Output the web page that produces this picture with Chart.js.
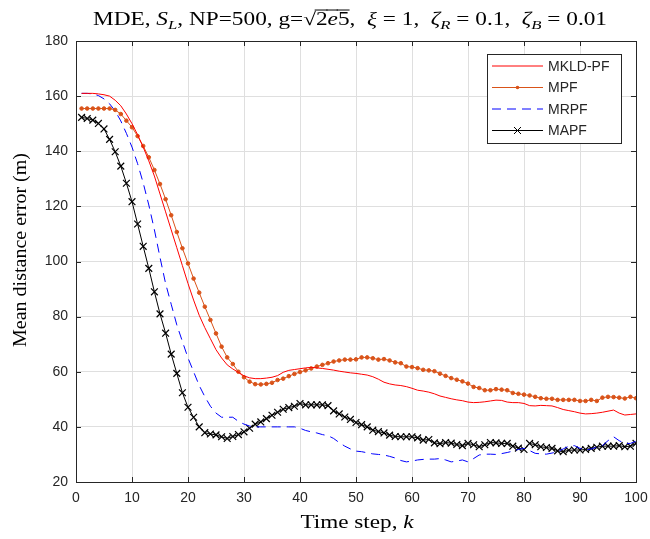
<!DOCTYPE html>
<html>
<head>
<meta charset="utf-8">
<script src="https://cdn.jsdelivr.net/npm/chart.js@4"></script>
<style>
  html, body { margin: 0; padding: 0; background: #fff; }
  #wrap { width: 650px; height: 539px; }
</style>
</head>
<body>
<div id="wrap"><canvas id="chart" width="650" height="539"></canvas></div>
<script>
const steps = Array.from({ length: 100 }, (_, i) => i + 1);

const mkldpf = [161, 161, 161, 160.8, 160.5, 160, 158.5, 156.5, 153.5, 150,
    146, 141.5, 136.5, 131, 124.5, 118, 111.5, 105, 98.5, 92,
    86, 80.5, 76, 72, 68, 65, 62.5, 61, 59.8, 58.5,
    57.8, 57.5, 57.5, 57.7, 58, 58.6, 59.8, 60.5, 60.8, 61.1,
    61.4, 61.6, 61.4, 61.2, 60.9, 60.6, 60.2, 59.9, 59.6, 59.4,
    59.1, 58.8, 58.2, 57.3, 56.2, 55.6, 55.2, 55, 54.6, 54,
    53.3, 53, 52.6, 52, 51.2, 50.7, 50.2, 49.8, 49.5, 49,
    48.8, 48.9, 49.1, 49.4, 49.7, 49.6, 49, 48.8, 48.8, 48.5,
    47.7, 47.6, 47.8, 47.7, 47.6, 47, 46.3, 45.9, 45.5, 45,
    44.7, 44.8, 45, 45.3, 45.7, 46.1, 45, 44.3, 44.5, 44.7];

const mpf = [155.5, 155.5, 155.5, 155.5, 155.5, 155.5, 155, 153.5, 151.1, 148.7,
    145.5, 141.9, 137.8, 133.2, 128.1, 122.6, 116.8, 110.7, 104.8, 99.3,
    93.8, 88.7, 83.6, 78.8, 73.9, 69.1, 65.2, 62.8, 60, 58,
    56.4, 55.5, 55.4, 55.6, 56, 57, 57.5, 58.4, 59.2, 59.9,
    60.5, 61.2, 61.9, 62.5, 63.1, 63.7, 64.1, 64.4, 64.4, 64.5,
    65.2, 65.2, 64.9, 64.4, 64.6, 64.1, 63.4, 63.1, 61.9, 61.7,
    61.3, 60.7, 60.5, 60.2, 59.3, 58.5, 57.7, 57.1, 56.5, 55.7,
    54.5, 54.1, 53.3, 53.3, 53.7, 53.5, 53.3, 52.3, 52, 51.7,
    51.4, 50.9, 50.4, 50.2, 50.2, 49.8, 49.8, 49.8, 49.8, 49.4,
    49.4, 49.8, 49.4, 50.6, 50.9, 50.8, 50.6, 50.3, 50.9, 50.4];

const mrpf = [161, 161, 160.8, 160.2, 159, 157.2, 154.6, 151, 146.5, 141.5,
    135.5, 128.5, 120.5, 111.5, 101.5, 92, 84.5, 77, 71, 65,
    60, 55, 51, 47.5, 45, 43.5, 43.5, 43.5, 42, 41,
    40.3, 40, 40, 40, 40, 40, 40, 40, 40, 39.5,
    38.7, 38.2, 37.8, 37.2, 36.8, 35.8, 34.3, 33, 32, 31.2,
    31, 30.6, 30.2, 30, 29.8, 29.3, 28.7, 27.8, 27.3, 27.6,
    28, 28.2, 28.3, 28.3, 28.5, 28, 27.3, 27.6, 28, 27.3,
    28.5, 29.8, 30.1, 30.1, 30, 30.3, 30.7, 31.2, 31.8, 32.2,
    31.4, 30.4, 30.2, 30.1, 30.5, 31, 32, 33, 33.2, 32.2,
    31.6, 32, 32.6, 33.2, 35, 36.4, 35, 34, 34, 34.8];

const mapf = [152.3, 151.9, 151.3, 150.1, 148.1, 144.3, 139.8, 134.6, 128.4, 121.7,
    113.6, 105.5, 97.5, 89, 81, 74, 66.4, 59.4, 52.4, 47.1,
    43.5, 40, 37.9, 37.4, 37.1, 36.4, 35.8, 36.5, 37.2, 38.2,
    39.5, 41, 41.8, 43, 44.2, 45.3, 46.4, 47, 47.5, 48.5,
    48, 48, 48, 48, 47.7, 45.8, 44.7, 43.6, 42.7, 41.6,
    40.8, 40, 38.8, 38.3, 37.8, 37, 36.5, 36.4, 36.4, 36.4,
    36, 35.2, 35.4, 34.2, 33.9, 34.3, 34.1, 33.6, 33.2, 34,
    33.5, 32.8, 33.5, 34.3, 34.2, 34, 34, 33, 32.3, 31.8,
    34, 33.5, 32.8, 32.5, 32.2, 31.3, 31, 31.5, 31.6, 31.6,
    31.8, 32.2, 32.6, 33, 33, 33, 33.2, 32.8, 33, 34];

const xTicks = [0, 10, 20, 30, 40, 50, 60, 70, 80, 90, 100];
const yTicks = [20, 40, 60, 80, 100, 120, 140, 160, 180];

const axisColor = '#262626';
const serif = '"Liberation Serif", "DejaVu Serif", serif';
const sans = '"Liberation Sans", Arial, sans-serif';

const toPoints = values => values.map((y, i) => ({ x: steps[i], y }));

const series = [
    { label: 'MKLD-PF', data: mkldpf, color: '#ff0000', dash: [], point: false, radius: 0 },
    { label: 'MPF', data: mpf, color: '#d95319', dash: [], point: 'circle', radius: 1.8 },
    { label: 'MRPF', data: mrpf, color: '#0000ff', dash: [9, 6], point: false, radius: 0 },
    { label: 'MAPF', data: mapf, color: '#000000', dash: [], point: 'crossRot', radius: 4.8 }
];

// rich text: runs of {t, it, sub, over}, stretched sideways to a target width
// (the original uses LaTeX's wider Computer Modern)
const drawRuns = (ctx, runs, cx, y, size, target) => {
    const fontOf = r => `${r.it ? 'italic ' : ''}${r.sub ? size * 0.72 : size}px ${serif}`;
    let total = 0;
    runs.forEach(r => { ctx.font = fontOf(r); r.w = ctx.measureText(r.t).width; total += r.w; });
    const sx = target ? target / total : 1;
    ctx.save();
    ctx.translate(cx - (total * sx) / 2, y);
    ctx.scale(sx, 1);
    ctx.textBaseline = 'alphabetic';
    ctx.textAlign = 'left';
    let x = 0;
    runs.forEach(r => {
        ctx.font = fontOf(r);
        ctx.fillText(r.t, x, r.sub ? size * 0.22 : 0);
        if (r.over) {
            ctx.fillRect(x - 1, -size * 0.86, r.w + 1, 1);
        }
        x += r.w;
    });
    ctx.restore();
};

const decorations = {
    id: 'decorations',
    afterDatasetsDraw(c) {
        const { ctx, chartArea: a, scales } = c;
        ctx.save();

        // ticks (inward, all four sides)
        ctx.strokeStyle = axisColor;
        ctx.lineWidth = 1;
        ctx.beginPath();
        xTicks.forEach(v => {
            const px = Math.round(scales.x.getPixelForValue(v)) + 0.5;
            ctx.moveTo(px, a.bottom); ctx.lineTo(px, a.bottom - 5);
            ctx.moveTo(px, a.top); ctx.lineTo(px, a.top + 5);
        });
        yTicks.forEach(v => {
            const py = Math.round(scales.y.getPixelForValue(v)) + 0.5;
            ctx.moveTo(a.left, py); ctx.lineTo(a.left + 5, py);
            ctx.moveTo(a.right, py); ctx.lineTo(a.right - 5, py);
        });
        ctx.stroke();

        // box
        ctx.strokeRect(Math.round(a.left) + 0.5, Math.round(a.top) + 0.5,
            Math.round(a.right - a.left), Math.round(a.bottom - a.top));

        // legend
        const lx = 487, ly = 54, lw = 134, lh = 89;
        ctx.fillStyle = '#fff';
        ctx.fillRect(lx, ly, lw, lh);
        ctx.strokeRect(lx + 0.5, ly + 0.5, lw, lh);
        ctx.font = `14px ${sans}`;
        ctx.textBaseline = 'middle';
        series.forEach((s, i) => {
            const y = 66 + i * 21.5;
            ctx.strokeStyle = s.color;
            ctx.setLineDash(s.dash);
            ctx.beginPath();
            ctx.moveTo(492, y); ctx.lineTo(543, y);
            ctx.stroke();
            ctx.setLineDash([]);
            if (s.point === 'circle') {
                ctx.fillStyle = s.color;
                ctx.beginPath(); ctx.arc(517.5, y, 1.8, 0, Math.PI * 2); ctx.fill();
            } else if (s.point === 'crossRot') {
                ctx.beginPath();
                ctx.moveTo(514, y - 3.5); ctx.lineTo(521, y + 3.5);
                ctx.moveTo(521, y - 3.5); ctx.lineTo(514, y + 3.5);
                ctx.stroke();
            }
            ctx.fillStyle = axisColor;
            ctx.fillText(s.label, 548, y + 1);
        });

        // title
        ctx.fillStyle = '#000';
        drawRuns(ctx, [
            { t: 'MDE, ' }, { t: 'S', it: true }, { t: 'L', it: true, sub: true },
            { t: ', NP=500, g=√' }, { t: '2', over: true }, { t: 'e', it: true, over: true }, { t: '5', over: true },
            { t: ',  ' }, { t: 'ξ', it: true }, { t: ' = 1,  ' },
            { t: 'ζ', it: true }, { t: 'R', it: true, sub: true }, { t: ' = 0.1,  ' },
            { t: 'ζ', it: true }, { t: 'B', it: true, sub: true }, { t: ' = 0.01' }
        ], 350, 25, 18, 514);

        // axis titles
        drawRuns(ctx, [{ t: 'Time step, ' }, { t: 'k', it: true }], 357, 528, 18, 113);
        ctx.translate(26, 250);
        ctx.rotate(-Math.PI / 2);
        drawRuns(ctx, [{ t: 'Mean distance error (m)' }], 0, 0, 18, 194);

        ctx.restore();
    }
};

const ctx = document.getElementById('chart').getContext('2d');

new Chart(ctx, {
    type: 'line',
    data: {
        datasets: series.map(s => ({
            label: s.label,
            data: toPoints(s.data),
            borderColor: s.color,
            backgroundColor: s.color,
            borderWidth: 1,
            borderDash: s.dash,
            pointStyle: s.point || 'circle',
            pointRadius: s.radius,
            pointBorderWidth: s.point === 'crossRot' ? 1.2 : 1,
            pointBorderColor: s.color,
            pointBackgroundColor: s.color,
            tension: 0,
            fill: false
        }))
    },
    options: {
        responsive: false,
        animation: false,
        layout: { padding: { top: 41, right: 14, left: 0, bottom: 0 } },
        plugins: {
            legend: { display: false },
            title: { display: false },
            tooltip: { enabled: false }
        },
        scales: {
            x: {
                type: 'linear',
                min: 0,
                max: 100,
                afterBuildTicks: s => { s.ticks = xTicks.map(v => ({ value: v })); },
                afterFit: s => { s.height = 57; s.paddingLeft = 0; s.paddingRight = 0; },
                grid: { color: '#dfdfdf', drawTicks: false },
                border: { display: false },
                ticks: { color: axisColor, font: { family: sans, size: 14 }, padding: 8, maxRotation: 0 }
            },
            y: {
                min: 20,
                max: 180,
                afterBuildTicks: s => { s.ticks = yTicks.map(v => ({ value: v })); },
                afterFit: s => { s.width = 76; s.paddingTop = 0; s.paddingBottom = 0; },
                grid: { color: '#dfdfdf', drawTicks: false },
                border: { display: false },
                ticks: { color: axisColor, font: { family: sans, size: 14 }, padding: 8 }
            }
        }
    },
    plugins: [decorations]
});
</script>
</body>
</html>
